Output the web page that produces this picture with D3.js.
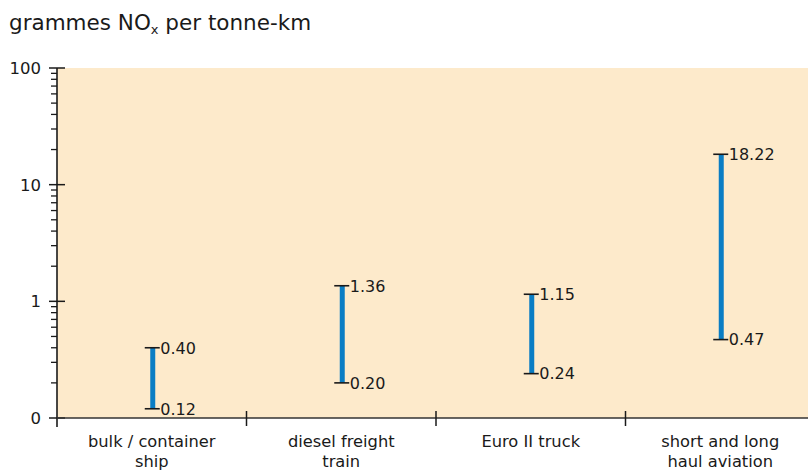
<!DOCTYPE html>
<html><head><meta charset="utf-8">
<script src="https://cdn.jsdelivr.net/npm/d3@7"></script>
<style>
body{margin:0;background:#fff;}
svg{display:block;}
text{font-family:"DejaVu Sans",sans-serif;fill:#1a1a1a;}
</style></head>
<body>
<svg id="chart" width="808" height="475"></svg>
<script>
const categories = [["bulk / container","ship"],["diesel freight","train"],["Euro II truck"],["short and long","haul aviation"]];
const lowValues = [0.12, 0.20, 0.24, 0.47];
const highValues = [0.40, 1.36, 1.15, 18.22];
const lowLabels = ["0.12","0.20","0.24","0.47"];
const highLabels = ["0.40","1.36","1.15","18.22"];
const majorTicks = [0.1, 1, 10, 100];
const majorTickLabels = ["0","1","10","100"];

const svg = d3.select("#chart");
const mLeft = 57, mRight = 815, mTop = 68, mBottom = 418;

const x = d3.scaleBand().domain(d3.range(categories.length)).range([mLeft, mRight]).padding(0);
const y = d3.scaleLog().domain([0.1, 100]).range([mBottom, mTop]);

// background
svg.append("rect").attr("x", mLeft).attr("y", mTop).attr("width", 808 - mLeft).attr("height", mBottom - mTop).attr("fill", "#fdeacb");

// title
const title = svg.append("text").attr("x", 9).attr("y", 30).style("font-size", "21.5px");
title.append("tspan").text("grammes NO");
title.append("tspan").text("x").attr("dy", 4).style("font-size", "13px");
title.append("tspan").text(" per tonne-km").attr("dy", -4);

// minor ticks
const minor = [];
[0.1, 1, 10].forEach(d => { for (let k = 2; k <= 9; k++) minor.push(d * k); });
svg.append("g").selectAll("line").data(minor).join("line")
  .attr("x1", 51).attr("x2", mLeft).attr("y1", d => y(d)).attr("y2", d => y(d))
  .attr("stroke", "#1a1a1a").attr("stroke-width", 1.3);

// major ticks
svg.append("g").selectAll("line").data(majorTicks).join("line")
  .attr("x1", 49).attr("x2", 65).attr("y1", d => y(d)).attr("y2", d => y(d))
  .attr("stroke", "#1a1a1a").attr("stroke-width", 1.5);
svg.append("g").selectAll("text").data(majorTicks).join("text")
  .attr("x", 41).attr("y", d => y(d)).attr("dy", "0.36em").attr("text-anchor", "end")
  .style("font-size", "16.5px").text((d, i) => majorTickLabels[i]);

// y axis line
svg.append("line").attr("x1", mLeft).attr("x2", mLeft).attr("y1", mTop).attr("y2", 427)
  .attr("stroke", "#1a1a1a").attr("stroke-width", 1.6);
// x axis line
svg.append("line").attr("x1", mLeft).attr("x2", 808).attr("y1", mBottom).attr("y2", mBottom)
  .attr("stroke", "#333").attr("stroke-width", 1.6);
// x boundary ticks
const bounds = d3.range(1, categories.length).map(i => x(i));
svg.append("g").selectAll("line").data(bounds).join("line")
  .attr("x1", d => d).attr("x2", d => d).attr("y1", 411).attr("y2", 426)
  .attr("stroke", "#1a1a1a").attr("stroke-width", 1.5);

// category labels
const cl = svg.append("g").selectAll("text").data(categories).join("text")
  .attr("text-anchor", "middle").style("font-size", "16.3px")
  .attr("x", (d, i) => x(i) + x.bandwidth() / 2).attr("y", 447);
cl.selectAll("tspan").data(d => d).join("tspan")
  .attr("x", function(){ return this.parentNode.getAttribute("x"); })
  .attr("dy", (d, j) => j === 0 ? 0 : 20).text(d => d);

// range bars
const g = svg.append("g");
categories.forEach((c, i) => {
  const cx = x(i) + x.bandwidth() / 2 + 1;
  g.append("line").attr("x1", cx).attr("x2", cx).attr("y1", y(lowValues[i])).attr("y2", y(highValues[i]))
    .attr("stroke", "#0a7dc4").attr("stroke-width", 5);
  [lowValues[i], highValues[i]].forEach((v, k) => {
    g.append("line").attr("x1", cx - 8).attr("x2", cx + 7).attr("y1", y(v)).attr("y2", y(v))
      .attr("stroke", "#1a1a1a").attr("stroke-width", 1.6);
    g.append("text").attr("x", cx + 7.5).attr("y", y(v)).attr("dy", "0.36em")
      .style("font-size", "16px").text(k === 0 ? lowLabels[i] : highLabels[i]);
  });
});
</script>
</body></html>
